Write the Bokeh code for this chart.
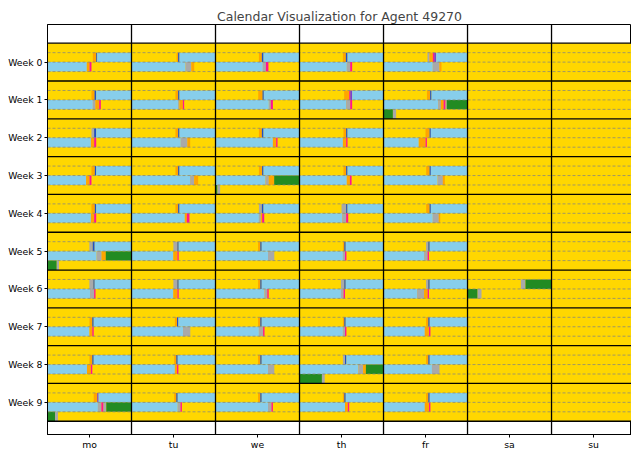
from bokeh.plotting import figure
from bokeh.models import Range1d, FixedTicker
from bokeh.embed import file_html
from bokeh.resources import INLINE

TITLE = "Calendar Visualization for Agent 49270"
DAY_LABELS = ["mo", "tu", "we", "th", "fr", "sa", "su"]
WEEK_LABELS = ["Week %d" % i for i in range(10)]

COLORS = {
    "H": "#FFD700",   # home
    "W": "#87CEEB",   # work
    "O": "#FFA500",
    "G": "#A9A9A9",
    "B": "#1f4fc8",
    "P": "#FF1493",
    "V": "#7B3FD0",
    "L": "#228B22",
}

# each day: list of (activity, start hour); activity lasts until the next start (day = 0..24 h)
WEEK_0 = [
    [("O", 9.24), ("B", 9.48), ("W", 9.55), ("O", 14.81), ("P", 15.0), ("H", 15.14)],
    [("O", 9.22), ("B", 9.33), ("W", 9.43), ("G", 15.86), ("O", 16.28), ("H", 16.48)],
    [("O", 9.1), ("B", 9.31), ("W", 9.43), ("G", 15.38), ("P", 15.6), ("H", 15.78)],
    [("O", 9.1), ("B", 9.31), ("W", 9.43), ("G", 15.38), ("P", 15.62), ("H", 15.76)],
    [("G", 9.14), ("O", 9.29), ("P", 9.52), ("V", 9.62), ("W", 9.76), ("G", 15.52), ("O", 16.0), ("H", 16.14)],
    [], [],
]
WEEK_1 = [
    [("O", 9.14), ("B", 9.36), ("W", 9.48), ("G", 15.24), ("O", 15.43), ("P", 15.69), ("H", 15.81)],
    [("O", 9.14), ("B", 9.33), ("W", 9.43), ("G", 15.33), ("O", 15.43), ("P", 15.67), ("H", 15.76)],
    [("O", 9.05), ("B", 9.36), ("W", 9.45), ("G", 15.81), ("P", 15.95), ("H", 16.1)],
    [("O", 9.19), ("P", 9.55), ("V", 9.62), ("W", 9.76), ("G", 15.33), ("P", 15.62), ("H", 15.76)],
    [("O", 9.1), ("B", 9.33), ("W", 9.43), ("G", 15.9), ("O", 16.1), ("P", 16.29), ("G", 16.43), ("L", 16.52), ("G", 18.67), ("H", 18.9)],
    [], [],
]
WEEK_2 = [
    [("G", 9.14), ("B", 9.33), ("W", 9.48), ("O", 15.1), ("P", 15.33), ("H", 15.48)],
    [("O", 9.14), ("B", 9.33), ("W", 9.43), ("G", 15.52), ("O", 16.0), ("H", 16.19)],
    [("O", 9.1), ("B", 9.31), ("W", 9.43), ("O", 16.1), ("P", 16.33), ("H", 16.43)],
    [("O", 9.14), ("B", 9.33), ("W", 9.43), ("O", 15.1), ("P", 15.33), ("H", 15.43)],
    [("O", 9.0), ("B", 9.29), ("W", 9.38), ("O", 14.52), ("P", 15.0), ("H", 15.1)],
    [], [],
]
WEEK_3 = [
    [("O", 9.14), ("B", 9.38), ("W", 9.48), ("O", 14.76), ("P", 15.0), ("H", 15.14)],
    [("O", 9.14), ("B", 9.33), ("W", 9.43), ("G", 16.19), ("O", 16.48), ("H", 16.76)],
    [("O", 9.1), ("B", 9.33), ("W", 9.43), ("G", 15.57), ("O", 15.81), ("L", 16.19), ("G", 18.14), ("H", 18.33)],
    [("O", 9.14), ("B", 9.33), ("W", 9.43), ("O", 15.38), ("P", 15.6), ("H", 15.72)],
    [("O", 9.05), ("B", 9.29), ("W", 9.38), ("G", 15.86), ("O", 16.24), ("H", 16.38)],
    [], [],
]
WEEK_4 = [
    [("O", 9.14), ("B", 9.38), ("W", 9.48), ("O", 15.1), ("P", 15.33), ("H", 15.48)],
    [("O", 9.14), ("B", 9.33), ("W", 9.43), ("O", 15.81), ("P", 15.95), ("H", 16.14)],
    [("G", 9.1), ("B", 9.31), ("W", 9.43), ("G", 15.1), ("O", 15.24), ("P", 15.33), ("H", 15.48)],
    [("G", 9.0), ("B", 9.33), ("W", 9.43), ("G", 15.05), ("P", 15.33), ("H", 15.48)],
    [("O", 9.05), ("B", 9.29), ("W", 9.38), ("G", 15.52), ("O", 15.95), ("H", 16.05)],
    [], [],
]
WEEK_5 = [
    [("G", 8.99), ("B", 9.23), ("W", 9.37), ("G", 15.51), ("O", 15.87), ("L", 16.16), ("G", 18.66), ("H", 18.82)],
    [("G", 8.99), ("B", 9.28), ("W", 9.37), ("O", 14.99), ("P", 15.28), ("H", 15.37)],
    [("O", 9.04), ("B", 9.2), ("W", 9.3), ("G", 15.75), ("H", 16.2)],
    [("O", 9.1), ("B", 9.2), ("W", 9.3), ("G", 15.1), ("P", 15.25), ("H", 15.35)],
    [("G", 9.04), ("B", 9.2), ("W", 9.3), ("G", 14.9), ("P", 15.15), ("H", 15.25)],
    [], [],
]
WEEK_6 = [
    [("G", 8.99), ("B", 9.28), ("W", 9.37), ("G", 15.04), ("P", 15.33), ("H", 15.43)],
    [("G", 8.99), ("B", 9.28), ("W", 9.37), ("O", 14.99), ("P", 15.28), ("H", 15.37)],
    [("O", 9.04), ("B", 9.2), ("W", 9.3), ("G", 15.5), ("P", 15.7), ("H", 15.8)],
    [("G", 8.96), ("B", 9.2), ("W", 9.3), ("G", 14.96), ("P", 15.15), ("H", 15.25)],
    [("G", 9.04), ("B", 9.2), ("W", 9.3), ("G", 14.4), ("O", 14.9), ("P", 15.15), ("H", 15.25)],
    [("G", 9.81), ("L", 10.14), ("G", 12.72), ("H", 13.0)],
    [],
]
WEEK_7 = [
    [("O", 9.0), ("B", 9.2), ("W", 9.3), ("O", 15.0), ("P", 15.2), ("H", 15.3)],
    [("O", 9.1), ("B", 9.25), ("W", 9.35), ("G", 15.68), ("H", 16.2)],
    [("O", 9.04), ("B", 9.2), ("W", 9.3), ("G", 15.1), ("P", 15.4), ("H", 15.5)],
    [("O", 9.1), ("B", 9.2), ("W", 9.3), ("G", 15.1), ("P", 15.25), ("H", 15.35)],
    [("O", 9.04), ("B", 9.2), ("W", 9.3), ("O", 14.95), ("P", 15.25), ("H", 15.35)],
    [], [],
]
WEEK_8 = [
    [("O", 9.0), ("B", 9.2), ("W", 9.3), ("O", 14.82), ("P", 15.1), ("H", 15.2)],
    [("O", 9.05), ("B", 9.2), ("W", 9.3), ("O", 15.1), ("P", 15.25), ("H", 15.35)],
    [("O", 9.04), ("B", 9.2), ("W", 9.3), ("G", 15.75), ("H", 16.2)],
    [("G", 9.1), ("B", 9.25), ("W", 9.35), ("G", 16.2), ("O", 16.55), ("L", 16.74), ("G", 19.6), ("H", 19.8)],
    [("O", 9.04), ("B", 9.2), ("W", 9.3), ("G", 15.46), ("H", 16.0)],
    [], [],
]
WEEK_9 = [
    [("O", 9.3), ("V", 9.55), ("W", 9.65), ("G", 15.6), ("P", 15.85), ("G", 16.0), ("L", 16.2), ("G", 18.54), ("H", 18.75)],
    [("O", 9.05), ("B", 9.2), ("W", 9.3), ("G", 15.3), ("P", 15.5), ("H", 15.6)],
    [("O", 9.04), ("B", 9.2), ("W", 9.3), ("G", 15.75), ("P", 16.0), ("H", 16.1)],
    [("O", 9.1), ("B", 9.2), ("W", 9.3), ("O", 15.25), ("P", 15.45), ("H", 15.55)],
    [("O", 9.04), ("B", 9.2), ("W", 9.3), ("O", 14.95), ("P", 15.25), ("H", 15.35)],
    [], [],
]
WEEKS = [WEEK_0, WEEK_1, WEEK_2, WEEK_3, WEEK_4, WEEK_5, WEEK_6, WEEK_7, WEEK_8, WEEK_9]

ROW_HOURS = 6.0          # each day drawn as 4 stacked rows of 6 hours
N_ROWS = 4

p = figure(width=631, height=452, output_backend="svg", toolbar_location=None,
           x_range=Range1d(0, 6.952), y_range=Range1d(9.85, -0.995),
           min_border_left=47, min_border_right=0, min_border_top=24, min_border_bottom=0)
p.title.text = TITLE
p.title.align = "center"
p.title.text_font = "DejaVu Sans"
p.title.text_font_size = "12.5px"
p.title.text_font_style = "normal"
p.title.standoff = 2
p.title.offset = 0
p.grid.visible = False
p.outline_line_color = "black"
p.outline_line_width = 1

# yellow (home) background of each week row
nweeks = len(WEEKS)
p.quad(left=[0] * nweeks, right=[7] * nweeks,
       top=[w - 0.5 for w in range(nweeks)], bottom=[w + 0.5 for w in range(nweeks)],
       fill_color=COLORS["H"], line_color=None)

L, R, T, B, C = [], [], [], [], []
for w, week in enumerate(WEEKS):
    for d, day in enumerate(week):
        for i, (act, start) in enumerate(day):
            end = day[i + 1][1] if i + 1 < len(day) else 24.0
            if act == "H":
                continue
            for k in range(N_ROWS):
                r0, r1 = k * ROW_HOURS, (k + 1) * ROW_HOURS
                s, e = max(start, r0), min(end, r1)
                if e <= s:
                    continue
                L.append(d + (s - r0) / ROW_HOURS)
                R.append(d + (e - r0) / ROW_HOURS)
                T.append(w - 0.5 + k / N_ROWS)
                B.append(w - 0.5 + (k + 1) / N_ROWS)
                C.append(COLORS[act])
p.quad(left=L, right=R, top=T, bottom=B, fill_color=C, line_color=None)

# dashed row separators
xs, ys = [], []
for w in range(nweeks):
    for k in range(1, N_ROWS):
        xs.append([0, 7])
        y = w - 0.5 + k / N_ROWS
        ys.append([y, y])
p.multi_line(xs, ys, line_color="#8a8a7a", line_alpha=0.8, line_width=1, line_dash="3 2")

# week separators
xs, ys = [], []
for w in range(nweeks + 1):
    xs.append([0, 7])
    ys.append([w - 0.5, w - 0.5])
p.multi_line(xs, ys, line_color="black", line_width=1.3)
# day separators
xs, ys = [], []
for d in range(1, 7):
    xs.append([d, d])
    ys.append([-1, 10])
p.multi_line(xs, ys, line_color="black", line_width=1.3)

for ax in (p.xaxis[0], p.yaxis[0]):
    ax.axis_line_color = "black"
    ax.major_tick_line_color = "black"
    ax.major_tick_out = 3
    ax.major_tick_in = 0
    ax.minor_tick_line_color = None
    ax.major_label_text_font = "DejaVu Sans"
    ax.major_label_text_font_size = "9.3px"
    ax.major_label_text_color = "black"
    ax.major_label_standoff = 2
p.xaxis.major_label_standoff = 1

p.xaxis.ticker = FixedTicker(ticks=[d + 0.5 for d in range(7)])
p.xaxis.major_label_overrides = {d + 0.5: lab for d, lab in enumerate(DAY_LABELS)}
p.yaxis.ticker = FixedTicker(ticks=list(range(nweeks)))
p.yaxis.major_label_overrides = {w: lab for w, lab in enumerate(WEEK_LABELS)}

open("out.html", "w").write(file_html(p, INLINE))
